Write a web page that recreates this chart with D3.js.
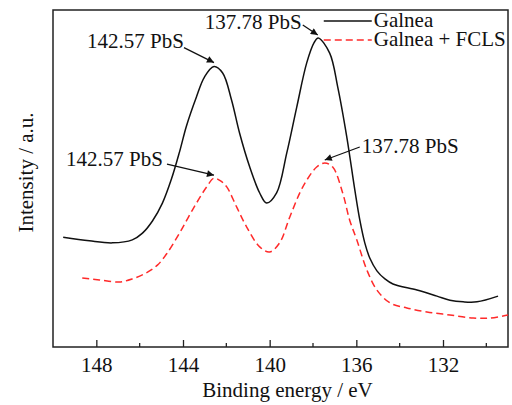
<!DOCTYPE html>
<html lang="en">
<head>
	<meta charset="UTF-8">
	<title>PbS XPS spectra</title>
	<script src="https://cdn.jsdelivr.net/npm/d3@7"></script>
	<style>
		body { margin: 0; background: #fff; }
		svg text { font-family: "Liberation Serif", "Times New Roman", serif !important; fill: #111; }
	</style>
</head>
<body>
	<div id="container"></div>
	<script>
		// binding energy (eV) and intensity (a.u.)
		var galneaE = [149.53, 148.32, 147.26, 146.34, 145.87, 145.41, 144.95, 144.53, 144.16, 143.84, 143.38, 143.01, 142.57,
			142.17, 141.76, 141.39, 140.92, 140.46, 140.14, 139.68, 139.21, 138.75, 138.29, 137.95, 137.76, 137.23,
			136.86, 136.44, 136.07, 135.84, 135.61, 135.38, 135.05, 134.68, 134.31, 133.2, 132.28, 131.68, 131.07, 130.43, 129.46];
		var galneaI = [32.6, 31.5, 30.9, 31.8, 33.8, 37.4, 42.7, 49.9, 57.9, 65.6, 74.2, 80.1, 83.2,
			81.3, 73.3, 63.5, 53.4, 45.7, 42.7, 45.7, 57.6, 71.2, 84.3, 90.3, 91.7, 87.2,
			77.2, 62.3, 46.6, 37.7, 30.9, 26.4, 22.6, 20.2, 18.7, 16.9, 15.1, 13.9, 13.4, 13.4, 15.1];

		var fclsE = [148.65, 147.86, 146.94, 146.34, 145.69, 145.18, 144.76, 144.16, 143.56, 142.91, 142.57, 142.25,
			141.98, 141.52, 141.06, 140.46, 140.0, 139.54, 139.07, 138.47, 137.83, 137.46, 137.09, 136.63,
			136.31, 135.98, 135.51, 135.05, 134.45, 133.67, 132.74, 131.68, 130.61, 129.83, 129.0];
		var fclsI = [20.5, 19.9, 19.3, 20.2, 22.0, 24.3, 27.6, 33.8, 40.7, 47.5, 50.1, 49.2,
			47.5, 41.5, 35.6, 29.7, 28.2, 30.9, 38.6, 47.5, 53.4, 54.6, 53.4, 45.7,
			37.7, 31.8, 22.8, 16.9, 13.1, 11.6, 10.4, 9.5, 8.6, 8.6, 9.5];

		var seriesNames = ["Galnea", "Galnea + FCLS"];
		var majorTicks = [148, 144, 140, 136, 132];
		var minorTicks = [146, 142, 138, 134, 130];

		// peak annotations
		var peakE = [142.57, 137.78, 142.57, 137.78];
		var peakI = [83.2, 91.7, 50.1, 54.6];
		var peakLabel = ["142.57 PbS", "137.78 PbS", "142.57 PbS", "137.78 PbS"];

		var W = 512, H = 405;
		var margin = { left: 53, top: 10, right: 4, bottom: 58 };
		var width = W - margin.left - margin.right;
		var height = H - margin.top - margin.bottom;
		var font = "'Liberation Serif', 'Times New Roman', serif";

		var svg = d3.select("#container").append("svg")
				.attr("width", W)
				.attr("height", H)
			.append("g")
				.attr("transform", "translate(" + margin.left + "," + margin.top + ")");

		var x = d3.scaleLinear().domain([150, 129]).range([0, width]);
		var y = d3.scaleLinear().domain([0, 100]).range([height, 0]);

		svg.append("defs").append("marker")
				.attr("id", "arrow")
				.attr("viewBox", "0 0 10 10")
				.attr("refX", 10)
				.attr("refY", 5)
				.attr("markerWidth", 9)
				.attr("markerHeight", 7)
				.attr("markerUnits", "userSpaceOnUse")
				.attr("orient", "auto")
			.append("path")
				.attr("d", "M0,0L10,5L0,10z")
				.attr("fill", "#111");

		// frame
		svg.append("rect")
				.attr("width", width)
				.attr("height", height)
				.attr("fill", "none")
				.attr("stroke", "#222")
				.attr("stroke-width", 1.5);

		var xAxis = svg.append("g")
				.attr("transform", "translate(0," + height + ")")
				.call(d3.axisBottom(x).tickValues(majorTicks).tickSizeInner(-7).tickSizeOuter(0).tickPadding(10).tickFormat(d3.format("d")));
		xAxis.attr("font-family", font).attr("font-size", 21);
		xAxis.select(".domain").remove();
		xAxis.selectAll("line").attr("stroke", "#222").attr("stroke-width", 1.3);
		xAxis.selectAll("text").style("font-family", font).attr("fill", "#111");

		svg.append("g").selectAll("line")
			.data(minorTicks)
			.enter().append("line")
				.attr("x1", d => x(d)).attr("x2", d => x(d))
				.attr("y1", height).attr("y2", height - 4)
				.attr("stroke", "#222")
				.attr("stroke-width", 1.3);

		svg.append("text")
				.attr("x", width / 2 + 7)
				.attr("y", height + 50)
				.attr("text-anchor", "middle")
				.attr("font-size", 21)
				.style("font-family", font)
				.text("Binding energy / eV");

		svg.append("text")
				.attr("transform", "translate(" + (-20) + "," + (height / 2 - 6) + ")rotate(-90)")
				.attr("text-anchor", "middle")
				.attr("font-size", 21)
				.style("font-family", font)
				.text("Intensity / a.u.");

		var line = d3.line()
			.x(d => x(d[0]))
			.y(d => y(d[1]))
			.curve(d3.curveCatmullRom);

		svg.append("path")
				.datum(d3.zip(galneaE, galneaI))
				.attr("d", line)
				.attr("fill", "none")
				.attr("stroke", "#111")
				.attr("stroke-width", 1.5);

		svg.append("path")
				.datum(d3.zip(fclsE, fclsI))
				.attr("d", line)
				.attr("fill", "none")
				.attr("stroke", "#ff2a2a")
				.attr("stroke-width", 1.5)
				.attr("stroke-dasharray", "7,4");

		// annotation offsets from the arrow tip, in px
		var tipDx = [0, 0, 0, 7];
		var tipDy = [-4, -3, -3, -3];
		var labelDx = [-127, -113, -148, 37];
		var labelDy = [-15, -6, -9, -7];
		var tailDx = [-30, -15, -47, 35];
		var tailDy = [-15, -10, -11, -13];

		peakE.forEach(function(e, i) {
			var tx = x(e) + tipDx[i], ty = y(peakI[i]) + tipDy[i];
			svg.append("line")
					.attr("x1", tx + tailDx[i]).attr("y1", ty + tailDy[i])
					.attr("x2", tx).attr("y2", ty)
					.attr("stroke", "#111")
					.attr("stroke-width", 1.2)
					.attr("marker-end", "url(#arrow)");
			svg.append("text")
					.attr("x", tx + labelDx[i])
					.attr("y", ty + labelDy[i])
					.attr("font-size", 21)
					.style("font-family", font)
					.text(peakLabel[i]);
		});

		// legend
		var legend = svg.append("g").attr("transform", "translate(" + (x(137.78) + 6) + ",11)");
		seriesNames.forEach(function(name, i) {
			var g = legend.append("g").attr("transform", "translate(0," + (i * 19) + ")");
			g.append("line")
					.attr("x1", 0).attr("x2", 48)
					.attr("stroke", i === 0 ? "#111" : "#ff2a2a")
					.attr("stroke-width", 1.5)
					.attr("stroke-dasharray", i === 0 ? null : "7,4");
			g.append("text")
					.attr("x", 50)
					.attr("y", 6)
					.attr("font-size", 21)
					.style("font-family", font)
					.text(name);
		});
	</script>
</body>
</html>
